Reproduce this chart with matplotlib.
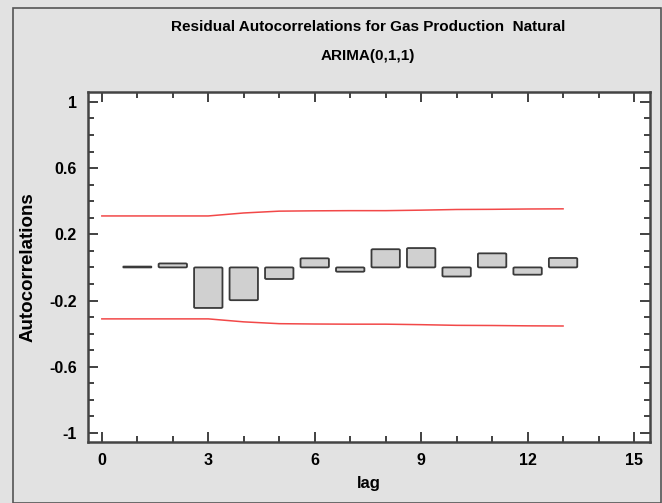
import matplotlib
matplotlib.use("Agg")
import matplotlib.pyplot as plt
from matplotlib.patches import Rectangle, FancyBboxPatch
import numpy as np

lags = [1, 2, 3, 4, 5, 6, 7, 8, 9, 10, 11, 12, 13]
acf = [0.005, 0.024, -0.245, -0.198, -0.070, 0.055, -0.026, 0.110, 0.117, -0.055, 0.085, -0.044, 0.057]
limit_lags = [0, 1, 2, 3, 4, 5, 6, 7, 8, 9, 10, 11, 12, 13]
upper_limit = [0.311, 0.311, 0.311, 0.311, 0.329, 0.340, 0.342, 0.343, 0.343, 0.346, 0.350, 0.351, 0.353, 0.354]
lower_limit = [-v for v in upper_limit]
xticks = [0, 3, 6, 9, 12, 15]
yticks = [-1, -0.6, -0.2, 0.2, 0.6, 1]
ytick_labels = ["-1", "-0.6", "-0.2", "0.2", "0.6", "1"]

font = "Liberation Sans"

W, H = 662, 503
fig = plt.figure(figsize=(W / 100, H / 100), dpi=100)
fig.patch.set_facecolor("#e2e2e2")
fig.patches.append(Rectangle((13 / W, 0), (661 - 13) / W, (H - 8) / H, transform=fig.transFigure,
                             fill=False, edgecolor="#555555", linewidth=1.2))

ax = fig.add_axes([88 / W, 1 - 442 / H, (650 - 88) / W, (442 - 92) / H])
ax.set_facecolor("white")

for lag, v in zip(lags, acf):
    y0 = min(0, v)
    hgt = abs(v)
    r = min(0.04, hgt / 0.3)
    box = FancyBboxPatch((lag - 0.4, y0), 0.8, hgt,
                         boxstyle="round,pad=0,rounding_size=%f" % r,
                         mutation_aspect=0.15,
                         facecolor="#d0d0d0", edgecolor="#3a3a3a", linewidth=1.3)
    ax.add_patch(box)

ax.plot(limit_lags, upper_limit, color="#f24848", linewidth=1.1)
ax.plot(limit_lags, lower_limit, color="#f24848", linewidth=1.1)

ax.set_xlim(-0.39, 15.45)
ax.set_ylim(-1.055, 1.06)
ax.set_xticks(xticks)
ax.set_xticks(range(0, 16), minor=True)
ax.set_yticks(yticks)
ax.set_yticklabels(ytick_labels)
ax.set_yticks(np.arange(-1.0, 1.01, 0.1), minor=True)

ax.tick_params(which="both", direction="in", top=True, right=True, color="#333333", width=1.3)
ax.tick_params(which="major", length=7, labelsize=11.5, pad=8)
ax.tick_params(which="minor", length=4)
for lab in ax.get_xticklabels() + ax.get_yticklabels():
    lab.set_fontfamily(font)
    lab.set_fontweight("bold")
for s in ax.spines.values():
    s.set_linewidth(1.8)
    s.set_color("#444444")

ax.set_xlabel("lag", fontfamily=font, fontweight="bold", fontsize=12, labelpad=6)
fig.text(28 / W, 1 - 267 / H, "Autocorrelations", rotation=90, ha="center", va="center",
         fontfamily=font, fontweight="bold", fontsize=13.5)

fig.text(368 / W, 1 - 27 / H, "Residual Autocorrelations for Gas Production  Natural",
         ha="center", va="center", fontfamily=font, fontweight="bold", fontsize=11)
fig.text(368 / W, 1 - 56 / H, "ARIMA(0,1,1)",
         ha="center", va="center", fontfamily=font, fontweight="bold", fontsize=11)

fig.savefig("out.png", dpi=100, facecolor=fig.get_facecolor())
